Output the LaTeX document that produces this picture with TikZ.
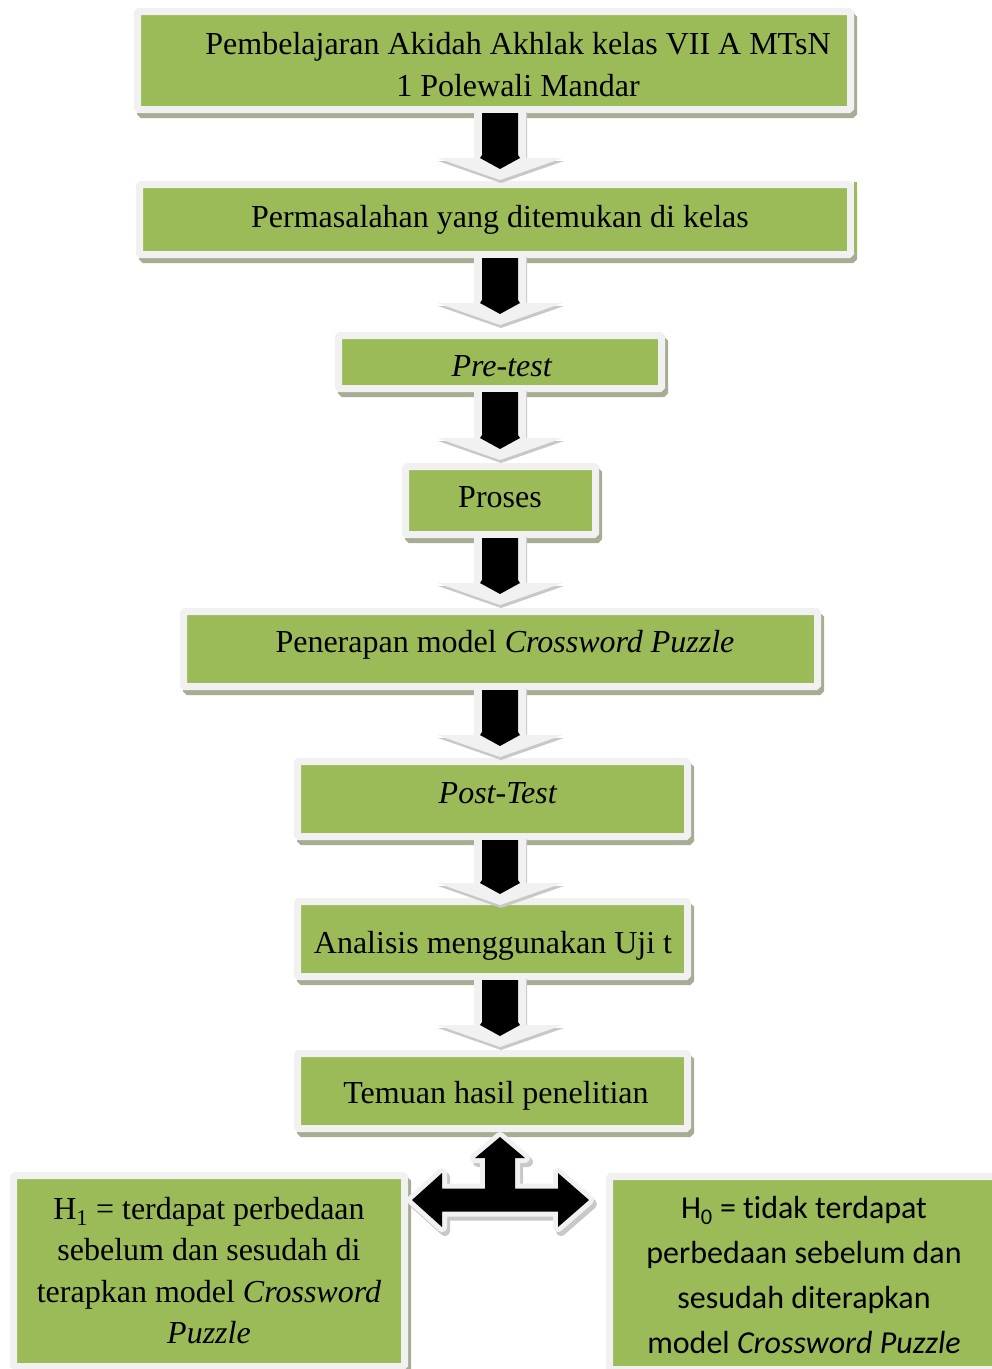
\documentclass[tikz,border=0pt]{standalone}
\usepackage{fontspec}
\setmainfont{Liberation Serif}
\newfontfamily\calibrifont[Ligatures={NoCommon}]{Carlito}
\usetikzlibrary{calc}
\definecolor{boxgreen}{RGB}{155,187,89}
\definecolor{boxedge}{RGB}{241,241,241}
\definecolor{boxshadow}{RGB}{166,173,148}
\definecolor{arrowshade}{RGB}{200,200,200}
\tikzset{
  flowbox/.style={draw=boxedge, line width=7pt, fill=boxgreen, rounded corners=1.5pt,
    inner sep=0pt, outer sep=3.5pt,
    preaction={draw=boxshadow, fill=boxshadow, transform canvas={shift={(3pt,-5pt)}}}},
  boxtext/.style={font=\fontsize{32}{42}\selectfont, align=center, inner sep=0pt, text=black},
  hzerotext/.style={font=\calibrifont\fontsize{32}{44.7}\selectfont, align=center, inner sep=0pt, text=black},
  hone/.style={boxtext, font=\fontsize{32}{41.5}\selectfont},
}
\newcommand\lightpoly[2]{(\x1-26pt+#1,\y1+4pt+#2) -- (\x1+26pt+#1,\y1+4pt+#2) -- (\x1+26pt+#1,\y2+22pt+#2) -- (\x1+63pt+#1,\y2+22pt+#2) -- (\x1+#1,\y2+#2) -- (\x1-63pt+#1,\y2+22pt+#2) -- (\x1-26pt+#1,\y2+22pt+#2) -- cycle}
\newcommand\blackpoly{(\x1-18pt,\y1) -- (\x1+18pt,\y1) -- (\x1+18pt,\y2+25pt) -- (\x1+20pt,\y2+22pt) -- (\x1,\y2+11pt) -- (\x1-20pt,\y2+22pt) -- (\x1-18pt,\y2+25pt) -- cycle}
\newcommand\downblock[3]{%
  \fill[arrowshade] let \p1=(axis |- #1.south), \p2=($(axis |- #2.north)+(0,#3)$) in \lightpoly{1pt}{-3pt};
  \fill[boxedge] let \p1=(axis |- #1.south), \p2=($(axis |- #2.north)+(0,#3)$) in \lightpoly{0pt}{0pt};
  \fill[black] let \p1=(axis |- #1.south), \p2=($(axis |- #2.north)+(0,#3)$) in \blackpoly;
}
\begin{document}
\begin{tikzpicture}[x=1pt,y=-1pt]
\useasboundingbox (0,0) rectangle (992,1369);
\coordinate (axis) at (500,0);

% boxes
\node[flowbox, minimum width=713pt, minimum height=98pt] (b1) at (494,60.5) {};
\node[flowbox, minimum width=711pt, minimum height=70pt] (b2) at (495,219.5) {};
\fill[boxgreen] (854,182) rectangle (857,252);
\node[flowbox, minimum width=323pt, minimum height=53pt] (b3) at (500,362) {};
\node[flowbox, minimum width=190pt, minimum height=68pt] (b4) at (500.5,500.5) {};
\node[flowbox, minimum width=634pt, minimum height=75pt] (b5) at (500.5,649) {};
\node[flowbox, minimum width=390pt, minimum height=75pt] (b6) at (492.5,799) {};
\node[flowbox, minimum width=390pt, minimum height=75pt] (b7) at (492.5,939) {};
\node[flowbox, minimum width=390pt, minimum height=75pt] (b8) at (492.5,1091) {};
\node[flowbox, minimum width=391pt, minimum height=191pt] (h1) at (209,1271) {};
\node[flowbox, minimum width=404pt, minimum height=193pt] (h0) at (811.5,1273) {};

% texts
\node[boxtext] (t1) at (518,66.6) {\strut Pembelajaran Akidah Akhlak kelas VII A MTsN\\\strut 1 Polewali Mandar};
\node[boxtext] (t2) at (500,218.6) {\strut Permasalahan yang ditemukan di kelas};
\node[boxtext] (t3) at (502,367.6) {\strut\textit{Pre-test}};
\node[boxtext] (t4) at (500,498.6) {\strut Proses};
\node[boxtext] (t5) at (505,643.6) {\strut Penerapan model \textit{Crossword Puzzle}};
\node[boxtext] (t6) at (498,794.6) {\strut\textit{Post-Test}};
\node[boxtext] (t7) at (493,944.6) {\strut Analisis menggunakan Uji t};
\node[boxtext] (t8) at (496,1094.6) {\strut Temuan hasil penelitian};
\node[hone] (t9) at (209,1273) {\strut H\textsubscript{1} = terdapat perbedaan\\\strut sebelum dan sesudah di\\\strut terapkan model \textit{Crossword}\\\strut\textit{Puzzle}};
\node[hzerotext] (t10) at (804,1277) {\strut H\textsubscript{0} = tidak terdapat\\\strut perbedaan sebelum dan\\\strut sesudah diterapkan\\\strut model \textit{Crossword Puzzle}};

% down arrows
\downblock{b1}{b2}{-1}
\downblock{b2}{b3}{-7}
\downblock{b3}{b4}{-3}
\downblock{b4}{b5}{-3}
\downblock{b5}{b6}{-1}
\downblock{b6}{b7}{7}
\downblock{b7}{b8}{-3}

% triple arrow
\begin{scope}[shift={(axis |- b8.south)}]
  \def\tri{(0,5) -- (25,26) -- (15,26) -- (15,56.5) -- (58,56.5) -- (58,41) -- (89,68) -- (58,95) -- (58,79.5) -- (-58,79.5) -- (-58,95) -- (-88,68) -- (-58,41) -- (-58,56.5) -- (-15,56.5) -- (-15,26) -- (-25,26) -- cycle}
  \begin{scope}[shift={(3,4)}]
    \filldraw[draw=arrowshade, fill=arrowshade, line width=10pt, line join=round] \tri;
  \end{scope}
  \filldraw[draw=boxedge, fill=black, line width=10pt, line join=round] \tri;
  \fill[black] \tri;
\end{scope}
\end{tikzpicture}
\end{document}
